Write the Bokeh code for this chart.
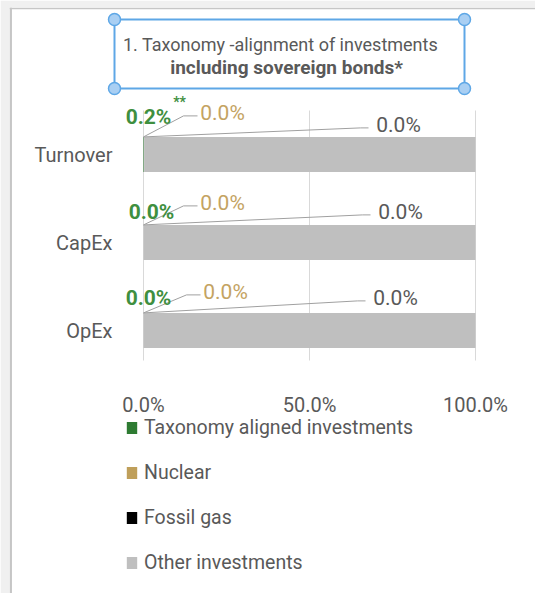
from bokeh.plotting import figure
from bokeh.models import (Range1d, FixedTicker, NumeralTickFormatter, LinearAxis,
                          Legend, LegendItem, Span, ColumnDataSource)
from bokeh.core.properties import value
from bokeh.embed import file_html
from bokeh.resources import INLINE

# ---------------- data ----------------
categories = ["Turnover", "CapEx", "OpEx"]
taxonomy_aligned = [0.002, 0.0, 0.0]
nuclear = [0.0, 0.0, 0.0]
fossil_gas = [0.0, 0.0, 0.0]
other_investments = [0.998, 1.0, 1.0]
x_ticks = [0.0, 0.5, 1.0]
series_names = ["Taxonomy aligned investments", "Nuclear", "Fossil gas", "Other investments"]
title_lines = ["1. Taxonomy -alignment of investments", "including sovereign bonds*"]
footnote_marks = ["**", "", ""]

# ---------------- layout ----------------
W, H = 535, 593
LEFT, TOP = 9, 7                # grey page strips
X0_PX, X_SCALE = 143.0, 332.0   # px of 0 %, px per 100 %
Y0_PX, Y_SCALE = 330.0, 88.0    # px of last row centre, px per row
BAR_H = 0.40
FONT = "Roboto"
GREY_TXT = "#595959"
COL_GREEN, COL_TAN, COL_BLACK, COL_GREY = "#2e7b32", "#bf9f5a", "#000000", "#bfbfbf"
TXT_GREEN, TXT_TAN, TXT_GREY = "#3f8f3f", "#c4a362", "#595959"

# label offsets in screen px relative to each bar's top-left corner
green_off = [(5, -20), (8, -13), (5, -15)]
tan_off = [(79, -24), (79, -22), (82, -21)]
grey_off = [(255, -12), (257, -13), (252, -15)]


def xd(px):
    return (px - X0_PX) / X_SCALE


def yd(py):
    return (Y0_PX - py) / Y_SCALE


rows = [float(len(categories) - 1 - i) for i in range(len(categories))]

p = figure(width=W, height=H, x_range=Range1d(xd(LEFT), xd(W)), y_range=Range1d(yd(H), yd(TOP)),
           x_axis_type=None, y_axis_type=None, toolbar_location=None, output_backend="svg",
           min_border_left=LEFT, min_border_top=TOP, min_border_right=0, min_border_bottom=0,
           outline_line_color=None, background_fill_color="white",
           border_fill_color="#f0f0f0")
p.xgrid.visible = False
p.ygrid.visible = False

# frame borders (left / top)
p.add_layout(Span(location=xd(LEFT + 1.2), dimension="height", line_color="#c6c6c6", line_width=2.5))
p.add_layout(Span(location=yd(TOP + 0.8), dimension="width", line_color="#c6c6c6", line_width=1.8))

# grid lines
p.segment(x0=x_ticks, x1=x_ticks, y0=[yd(360)] * len(x_ticks), y1=[yd(110)] * len(x_ticks),
          line_color="#d9d9d9", line_width=1)

# stacked bars
src = ColumnDataSource(dict(y=rows, tax=taxonomy_aligned, nuc=nuclear, gas=fossil_gas,
                            oth=other_investments))
renderers = p.hbar_stack(["tax", "nuc", "gas", "oth"], y="y", height=BAR_H,
                         color=[COL_GREEN, COL_TAN, COL_BLACK, COL_GREY], line_color=None,
                         source=src)

# axes
xaxis = LinearAxis(fixed_location=yd(360), ticker=FixedTicker(ticks=x_ticks),
                   formatter=NumeralTickFormatter(format="0.0%"))
xaxis.axis_line_color = None
xaxis.major_tick_line_color = None
xaxis.minor_tick_line_color = None
xaxis.major_label_text_font = FONT
xaxis.major_label_text_font_size = "20px"
xaxis.major_label_text_color = GREY_TXT
xaxis.major_label_standoff = 26
p.add_layout(xaxis, "below")

yaxis = LinearAxis(fixed_location=0.0, ticker=FixedTicker(ticks=rows),
                   major_label_overrides={r: c for r, c in zip(rows, categories)})
yaxis.axis_line_color = None
yaxis.major_tick_line_color = None
yaxis.minor_tick_line_color = None
yaxis.major_label_text_font = FONT
yaxis.major_label_text_font_size = "20px"
yaxis.major_label_text_color = GREY_TXT
yaxis.major_label_standoff = 25
p.add_layout(yaxis, "left")

# data labels with leader lines
tops = [r + BAR_H / 2 for r in rows]


def pct(v):
    return f"{v * 100:.1f}%"


def add_labels(vals, offs, color, bold):
    s = ColumnDataSource(dict(x=[0.0] * len(vals), y=tops, t=[pct(v) for v in vals],
                              xo=[o[0] for o in offs], yo=[o[1] for o in offs]))
    p.text(x="x", y="y", text="t", x_offset="xo", y_offset="yo", source=s,
           text_font=value(FONT), text_font_size="21px", text_color=color,
           text_font_style="bold" if bold else "normal",
           text_align="center", text_baseline="middle")


def add_leaders(offs, kink, end):
    xs, ys = [], []
    for t, (ox, oy) in zip(tops, offs):
        ly = t - (oy + 3) / Y_SCALE
        xs.append([0.0, (ox + kink) / X_SCALE, (ox + end) / X_SCALE])
        ys.append([t, ly, ly])
    p.multi_line(xs=xs, ys=ys, line_color="#a0a0a0", line_width=1)


add_leaders(tan_off, -39, -25)
add_leaders(grey_off, -38, -30)
add_labels(taxonomy_aligned, green_off, TXT_GREEN, True)
add_labels(nuclear, tan_off, TXT_TAN, False)
add_labels(fossil_gas, grey_off, TXT_GREY, False)

fn = ColumnDataSource(dict(x=[0.0] * 3, y=tops, t=footnote_marks,
                           xo=[o[0] + 31 for o in green_off], yo=[o[1] - 15 for o in green_off]))
p.text(x="x", y="y", text="t", x_offset="xo", y_offset="yo", source=fn,
       text_font=value(FONT), text_font_size="14px", text_color=TXT_GREEN,
       text_font_style="bold", text_align="center", text_baseline="middle")

# title with selection box
p.rect(x=[xd(289)], y=[yd(53.5)], width=350, height=69, width_units="screen",
       height_units="screen", fill_color=None, line_color="#5ea7e6", line_width=2)
p.scatter(x=[xd(114), xd(464), xd(114), xd(464)], y=[yd(19), yd(19), yd(88), yd(88)],
          size=12, fill_color="#a9cff3", line_color="#5ea7e6", line_width=1.5)
p.text(x=[xd(280)], y=[yd(44)], text=[title_lines[0]], text_font=value(FONT),
       text_font_size="18px", text_color=GREY_TXT, text_align="center",
       text_baseline="middle")
p.text(x=[xd(286)], y=[yd(67)], text=[title_lines[1]], text_font=value(FONT),
       text_font_size="19px", text_font_style="bold", text_color=GREY_TXT,
       text_align="center", text_baseline="middle")

# legend
legend = Legend(items=[LegendItem(label=n, renderers=[r]) for n, r in zip(series_names, renderers)],
                location=(116, 19), orientation="vertical", border_line_color=None,
                background_fill_alpha=0, padding=0, margin=0, spacing=22,
                glyph_width=13, glyph_height=15, label_height=22, label_standoff=6,
                label_text_font=FONT, label_text_font_size="19.5px", label_text_color=GREY_TXT)
p.add_layout(legend)

open("out.html", "w").write(file_html(p, INLINE))
